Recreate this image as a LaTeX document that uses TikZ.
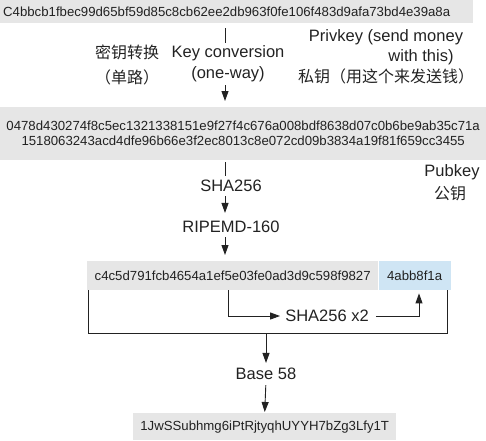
\documentclass[tikz,border=0pt]{standalone}
\usepackage{fontspec}
\setmainfont{Liberation Sans}
\newfontfamily\cjk{Noto Sans CJK SC}
\usetikzlibrary{arrows.meta}
\definecolor{boxgray}{HTML}{E6E6E6}
\definecolor{boxblue}{HTML}{CFE5F4}
\definecolor{ink}{HTML}{222222}
\begin{document}
\begin{tikzpicture}[x=1pt,y=-1pt,
  hexbox/.style={fill=boxgray, inner sep=0pt, font=\fontsize{13.2}{15}\selectfont, text=ink},
  lbl/.style={font=\fontsize{16.5}{21}\selectfont, text=ink, inner sep=0pt, align=center},
  cjklbl/.style={font=\cjk\fontsize{16}{20}\selectfont, text=ink, inner sep=0pt},
  conn/.style={draw=ink, line width=0.9pt},
  arr/.style={conn, -{Triangle[length=10pt,width=7pt]}}]
\useasboundingbox (0,0) rectangle (486,440);

% boxes
\node[hexbox, anchor=north west, minimum height=23pt, text width=467pt, inner xsep=3pt, align=left] (priv) at (0,0)
  {C4bbcb1fbec99d65bf59d85c8cb62ee2db963f0fe106f483d9afa73bd4e39a8a};
\node[hexbox, anchor=north west, minimum width=486pt, minimum height=53pt, align=center] (pub) at (0,107)
  {0478d430274f8c5ec1321338151e9f27f4c676a008bdf8638d07c0b6be9ab35c71a\\1518063243acd4dfe96b66e3f2ec8013c8e072cd09b3834a19f81f659cc3455};
\node[hexbox, anchor=north west, minimum width=291pt, minimum height=29pt] (hash) at (87,261)
  {c4c5d791fcb4654a1ef5e03fe0ad3d9c598f9827};
\node[hexbox, fill=boxblue, anchor=west, minimum width=72pt, minimum height=29pt] (chk) at (hash.east) {4abb8f1a};
\node[hexbox, anchor=north west, minimum width=263pt, minimum height=27pt] (addr) at (133,413)
  {1JwSSubhmg6iPtRjtyqhUYYH7bZg3Lfy1T};

% labels
\node[lbl] (kc) at (228,64) {Key conversion\\(one-way)};
\node[cjklbl] (mykz) at (127,52) {密钥转换};
\node[cjklbl] (danlu) at (127,77) {（单路）};
\node[lbl] (privlbl1) at (386,37) {Privkey (send money};
\node[lbl] (privlbl2) at (421,57) {with this)};
\node[cjklbl] (privcn) at (386,76) {私钥（用这个来发送钱）};
\node[lbl] (publbl) at (452,172) {Pubkey};
\node[cjklbl] (pubcn) at (450,193) {公钥};
\node[lbl] (sha) at (231,186) {SHA256};
\node[lbl] (ripe) at (231,227) {RIPEMD-160};
\node[lbl] (sx2) at (327,316) {SHA256 x2};
\node[lbl] (base) at (266,374) {Base 58};

% axis coordinates
\coordinate (ax) at (225,0);
\coordinate (s1) at (228,0);
\coordinate (s2) at (419,0);
\coordinate (bl) at (88,333);
\coordinate (br) at (447,333);
\coordinate (bm) at (266,333);

% connectors
\draw[conn, shorten <=5pt, shorten >=3pt] (priv.south -| ax) -- (kc.north -| ax);
\draw[arr, shorten <=3pt, shorten >=6pt] (kc.south -| ax) -- (pub.north -| ax);
\draw[conn, shorten <=2pt, shorten >=4pt] (pub.south -| ax) -- (sha.north -| ax);
\draw[arr, shorten <=4pt, shorten >=8pt] (sha.south -| ax) -- (ripe.north -| ax);
\draw[arr, shorten <=4pt, shorten >=6pt] (ripe.south -| ax) -- (hash.north -| ax);
\draw[arr, shorten >=5pt] (hash.south -| s1) |- (sx2.west);
\draw[arr, shorten <=7pt, shorten >=3pt] (sx2.east) -| (chk.south -| s2);
\draw[conn] (hash.south west -| bl) -- (bl) -- (br) -- (chk.south -| br);
\draw[arr, shorten >=5pt] (bm) -- (base.north);
\draw[arr, shorten <=5pt, shorten >=1pt] (base.south) -- (addr.north);
\end{tikzpicture}
\end{document}
